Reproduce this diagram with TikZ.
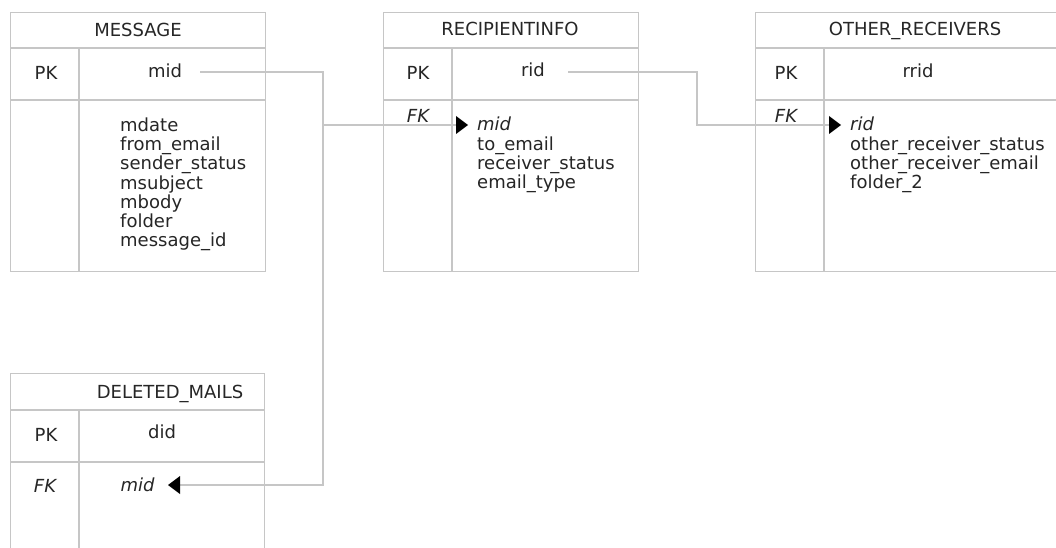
\documentclass[tikz,border=0pt]{standalone}
\usepackage{fontspec}
\setmainfont{DejaVu Sans}
\usetikzlibrary{arrows.meta}
\definecolor{frame}{HTML}{C6C6C6}
\definecolor{ink}{HTML}{262626}
\begin{document}
\begin{tikzpicture}[x=1pt,y=-1pt,
  every node/.style={font=\fontsize{18pt}{19.2pt}\selectfont, text=ink, inner sep=0pt},
  tbl/.style={draw=frame, line width=1.2pt, rectangle, anchor=north west, minimum width=#1},
  rule/.style={draw=frame, line width=1.2pt},
  conn/.style={draw=frame, line width=1.2pt},
  fk/.style={-{Triangle[length=12pt,width=18pt,color=black,line width=0pt]}},
  hdr/.style={anchor=base},
  key/.style={anchor=base},
  attr/.style={anchor=base west}]
\useasboundingbox (0,0) rectangle (1056,548);
\clip (0,0) rectangle (1056,548);
\fill[white] (0,0) rectangle (1056,548);

% ---- table frames
\node[tbl=255pt, minimum height=259pt] (message) at (10,12) {};
\node[tbl=255pt, minimum height=259pt] (recip) at (383,12) {};
\node[tbl=315pt, minimum height=259pt] (other) at (755,12) {};
\node[tbl=254pt, minimum height=190pt] (deleted) at (10,373) {};

% ---- inner rules
\draw[rule] (10,48) -- (265,48) (10,100) -- (265,100) (79,48) -- (79,271);
\draw[rule] (383,48) -- (638,48) (383,100) -- (638,100) (452,48) -- (452,271);
\draw[rule] (755,48) -- (1070,48) (755,100) -- (1070,100) (824,48) -- (824,271);
\draw[rule] (10,410) -- (264,410) (10,462) -- (264,462) (79,410) -- (79,563);

% ---- MESSAGE
\node[hdr] (mhdr) at (138,36.5) {MESSAGE};
\node[key] (mpk) at (46,80) {PK};
\node[key] (mmid) at (165,78) {mid};
\foreach \t [count=\i from 0] in {mdate,from\_email,sender\_status,msubject,mbody,folder,message\_id}
  \node[attr] (ma\i) at (120,131.5+19.2*\i) {\t};

% ---- RECIPIENTINFO
\node[hdr] (rhdr) at (510,36) {RECIPIENTINFO};
\node[key] (rpk) at (418,80) {PK};
\node[key] (rrid) at (533,77) {rid};
\node[key] (rfk) at (418,123) {\itshape FK};
\node[attr] (ra0) at (477,131) {\itshape mid};
\foreach \t [count=\i from 1] in {to\_email,receiver\_status,email\_type}
  \node[attr] (ra\i) at (477,131+19.2*\i) {\t};

% ---- OTHER_RECEIVERS
\node[hdr] (ohdr) at (915,36) {OTHER\_RECEIVERS};
\node[key] (opk) at (786,80) {PK};
\node[key] (orrid) at (918,78) {rrid};
\node[key] (ofk) at (786,123) {\itshape FK};
\node[attr] (oa0) at (850,131) {\itshape rid};
\foreach \t [count=\i from 1] in {other\_receiver\_status,other\_receiver\_email,folder\_2}
  \node[attr] (oa\i) at (850,131+19.2*\i) {\t};

% ---- DELETED_MAILS
\node[hdr] (dhdr) at (170,398) {DELETED\_MAILS};
\node[key] (dpk) at (46,441) {PK};
\node[key] (ddid) at (162,438) {did};
\node[key] (dfk) at (45,492) {\itshape FK};
\node[key] (dmid) at (137.5,491) {\itshape mid};

% ---- connector points
\coordinate (m0) at (200,72);
\coordinate (jtop) at (323,72);
\coordinate (jmid) at (323,125);
\coordinate (jbot) at (323,485);
\coordinate (dtip) at (168,485);
\coordinate (rtip) at (468,125);
\coordinate (r0) at (568,72);
\coordinate (k1) at (697,72);
\coordinate (k2) at (697,125);
\coordinate (otip) at (841,125);

% ---- connectors
\draw[conn,fk] (m0) -- (jtop) -- (jbot) -- (dtip);
\draw[conn,fk] (jmid) -- (rtip);
\draw[conn,fk] (r0) -- (k1) -- (k2) -- (otip);
\end{tikzpicture}
\end{document}
